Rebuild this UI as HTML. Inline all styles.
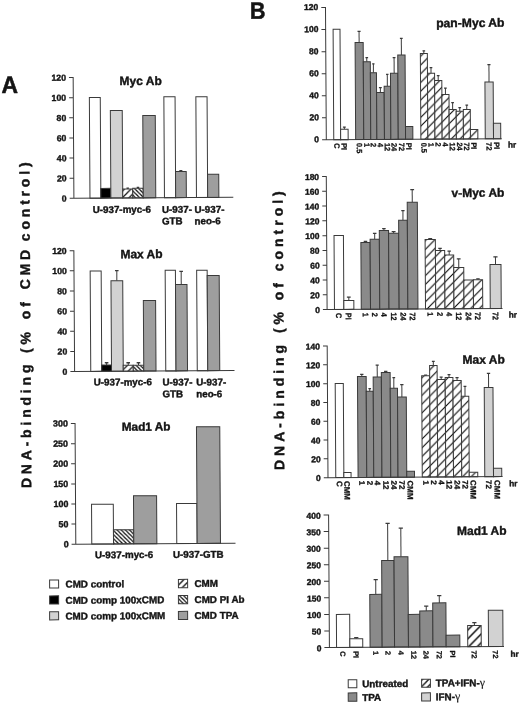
<!DOCTYPE html>
<html lang="en">
<head>
<meta charset="utf-8">
<title>DNA-binding of Myc, Max and Mad1 in U-937 cells</title>
<style>
html,body{margin:0;padding:0;background:#fff}
body{width:520px;height:705px;overflow:hidden}
svg{display:block}
text{font-family:"Liberation Sans",sans-serif;font-weight:bold;fill:#141414;stroke:#141414;stroke-width:.4;stroke-linejoin:round}
.v{stroke-width:.3}
.big{stroke-width:.55}
.b{stroke:#3a3a3a;stroke-width:1}
.a{stroke:#3a3a3a;stroke-width:1;fill:none}
.e{stroke:#3a3a3a;stroke-width:1;fill:none}
.c{stroke:#3a3a3a;stroke-width:1.4;fill:none}
.g{font-family:"Liberation Serif","DejaVu Serif",serif;font-weight:normal;stroke-width:.15}
</style>
</head>
<body>
<svg width="520" height="705" viewBox="0 0 520 705" role="img" aria-label="Bar charts of DNA-binding by Myc, Max and Mad1 antibodies">
<defs>
<pattern id="hB" patternUnits="userSpaceOnUse" width="8.7" height="8.7" x="6.8" y="3.1">
<rect width="8.7" height="8.7" fill="#fff"/>
<path d="M-8.7 17.4L8.7 0M0 17.4L17.4 0M-8.7 8.7L8.7 -8.7" stroke="#000" stroke-width="1.05" fill="none"/>
</pattern>
<pattern id="hB2" patternUnits="userSpaceOnUse" width="8.7" height="8.7" x="6.8" y="-0.3">
<rect width="8.7" height="8.7" fill="#fff"/>
<path d="M-8.7 17.4L8.7 0M0 17.4L17.4 0M-8.7 8.7L8.7 -8.7" stroke="#000" stroke-width="1.05" fill="none"/>
</pattern>
<pattern id="hB3" patternUnits="userSpaceOnUse" width="8.7" height="8.7" x="6.8" y="2.1">
<rect width="8.7" height="8.7" fill="#fff"/>
<path d="M-8.7 17.4L8.7 0M0 17.4L17.4 0M-8.7 8.7L8.7 -8.7" stroke="#000" stroke-width="1.05" fill="none"/>
</pattern>
<pattern id="hB4" patternUnits="userSpaceOnUse" width="8.7" height="8.7" x="6.8" y="3.1">
<rect width="8.7" height="8.7" fill="#fff"/>
<path d="M-8.7 17.4L8.7 0M0 17.4L17.4 0M-8.7 8.7L8.7 -8.7" stroke="#000" stroke-width="1.4" fill="none"/>
</pattern>
<pattern id="hA" patternUnits="userSpaceOnUse" width="6.6" height="6.6" x="2.5" y="1">
<rect width="6.6" height="6.6" fill="#fff"/>
<path d="M-6.6 13.2L6.6 0M0 13.2L13.2 0M-6.6 6.6L6.6 -6.6" stroke="#111" stroke-width="1.2" fill="none"/>
</pattern>
<pattern id="hL" patternUnits="userSpaceOnUse" width="6.4" height="6.4" x="0" y="0">
<rect width="6.4" height="6.4" fill="#fff"/>
<path d="M-6.4 12.8L6.4 0M0 12.8L12.8 0M-6.4 6.4L6.4 -6.4" stroke="#111" stroke-width="1.4" fill="none"/>
</pattern>
<pattern id="hP" patternUnits="userSpaceOnUse" width="4.1" height="4.1" x="1" y="0">
<rect width="4.1" height="4.1" fill="#fff"/>
<path d="M-4.1 -4.1L8.2 8.2M-4.1 0L4.1 8.2M0 -4.1L8.2 4.1" stroke="#111" stroke-width="1.3" fill="none"/>
</pattern>
</defs>
<rect width="520" height="705" fill="#fff"/>
<g transform="rotate(-0.35 260 352.5)">
<g id="panelA">
<text transform="translate(3.09 91.43) scale(0.96 1)" font-size="23.8" class="big">A</text>
<text transform="translate(30.48 321.95) rotate(-90)" font-size="14" text-anchor="middle" letter-spacing="3.8" word-spacing="0" class="yl">DNA-binding (% <tspan dx="1.5">of </tspan><tspan dx="1.3">CMD </tspan><tspan dx="-2.8">control)</tspan></text>
<rect x="90.92" y="96.5" width="10.9" height="100.67" fill="#ffffff" class="b"/>
<rect x="101.82" y="187.46" width="10" height="9.71" fill="#000000" class="b"/>
<rect x="111.82" y="109.63" width="11.9" height="87.54" fill="#d2d2d2" class="b"/>
<path d="M128.72 188.19V187.19" class="e"/><path d="M127.47 187.29H129.97" class="c"/>
<rect x="123.72" y="188.19" width="10" height="8.97" fill="url(#hA)" class="b"/>
<path d="M138.97 187.56V186.56" class="e"/><path d="M137.72 186.66H140.22" class="c"/>
<rect x="133.72" y="187.56" width="10.5" height="9.61" fill="url(#hP)" class="b"/>
<rect x="144.22" y="114.83" width="12.5" height="82.34" fill="#9e9e9e" class="b"/>
<rect x="165.42" y="96.2" width="11.2" height="100.96" fill="#ffffff" class="b"/>
<path d="M181.97 171.02V170.12" class="e"/><path d="M180.47 170.22H183.47" class="c"/>
<rect x="176.62" y="171.02" width="10.7" height="26.15" fill="#9e9e9e" class="b"/>
<rect x="197.42" y="96.4" width="11.2" height="100.77" fill="#ffffff" class="b"/>
<rect x="208.62" y="173.97" width="11.2" height="23.2" fill="#9e9e9e" class="b"/>
<path d="M70.65 76.36H74.85V197.17H234.25M70.65 96.5H74.85M70.65 116.63H74.85M70.65 136.76H74.85M70.65 156.9H74.85M70.65 177.03H74.85M70.65 197.17H74.85" class="a"/>
<text x="67.65" y="79.5" font-size="8.7" text-anchor="end">120</text>
<text x="67.65" y="99.63" font-size="8.7" text-anchor="end">100</text>
<text x="67.65" y="119.76" font-size="8.7" text-anchor="end">80</text>
<text x="67.65" y="139.9" font-size="8.7" text-anchor="end">60</text>
<text x="67.65" y="160.03" font-size="8.7" text-anchor="end">40</text>
<text x="67.65" y="180.16" font-size="8.7" text-anchor="end">20</text>
<text x="67.65" y="200.3" font-size="8.7" text-anchor="end">0</text>
<text x="121.14" y="84.25" font-size="12">Myc Ab</text>
<text x="93.56" y="211.98" font-size="9.8">U-937-myc-6</text>
<text x="162.85" y="212.3" font-size="9.8">U-937-</text>
<text x="162.78" y="223.8" font-size="9.8">GTB</text>
<text x="195.35" y="212.5" font-size="9.8">U-937-</text>
<text x="195.28" y="224" font-size="9.8">neo-6</text>
<rect x="90.66" y="270" width="11" height="100.37" fill="#ffffff" class="b"/>
<path d="M106.54 364.06V361.76" class="e"/><path d="M104.74 361.86H108.34" class="c"/>
<rect x="101.66" y="364.06" width="9.75" height="6.31" fill="#000000" class="b"/>
<path d="M117.29 279.88V269.63" class="e"/><path d="M115.49 269.73H119.09" class="c"/>
<rect x="111.41" y="279.88" width="11.75" height="90.49" fill="#d2d2d2" class="b"/>
<path d="M128.16 364.44V361.89" class="e"/><path d="M126.36 361.99H129.96" class="c"/>
<rect x="123.16" y="364.44" width="10" height="5.92" fill="url(#hA)" class="b"/>
<path d="M138.41 364.51V361.96" class="e"/><path d="M136.61 362.06H140.21" class="c"/>
<rect x="133.16" y="364.51" width="10.5" height="5.86" fill="url(#hP)" class="b"/>
<rect x="143.66" y="299.83" width="12.25" height="70.54" fill="#9e9e9e" class="b"/>
<rect x="165.66" y="269.71" width="10.25" height="100.66" fill="#ffffff" class="b"/>
<path d="M181.66 284.02V270.77" class="e"/><path d="M179.86 270.87H183.46" class="c"/>
<rect x="175.91" y="284.02" width="11.5" height="86.35" fill="#9e9e9e" class="b"/>
<rect x="197.16" y="269.9" width="10.5" height="100.47" fill="#ffffff" class="b"/>
<rect x="207.66" y="275.22" width="12" height="95.15" fill="#9e9e9e" class="b"/>
<path d="M70.29 249.56H74.49V370.37H234.39M70.29 269.7H74.49M70.29 289.83H74.49M70.29 309.97H74.49M70.29 330.1H74.49M70.29 350.23H74.49M70.29 370.37H74.49" class="a"/>
<text x="67.29" y="252.7" font-size="8.7" text-anchor="end">120</text>
<text x="67.29" y="272.83" font-size="8.7" text-anchor="end">100</text>
<text x="67.29" y="292.96" font-size="8.7" text-anchor="end">80</text>
<text x="67.29" y="313.1" font-size="8.7" text-anchor="end">60</text>
<text x="67.29" y="333.23" font-size="8.7" text-anchor="end">40</text>
<text x="67.29" y="353.37" font-size="8.7" text-anchor="end">20</text>
<text x="67.29" y="373.5" font-size="8.7" text-anchor="end">0</text>
<text x="120.98" y="257.45" font-size="12">Max Ab</text>
<text x="93.5" y="384.58" font-size="9.8">U-937-myc-6</text>
<text x="162.3" y="385" font-size="9.8">U-937-</text>
<text x="162.23" y="396.7" font-size="9.8">GTB</text>
<text x="196" y="385.21" font-size="9.8">U-937-</text>
<text x="195.93" y="396.91" font-size="9.8">neo-6</text>
<rect x="90.61" y="503.28" width="21.75" height="39.79" fill="#ffffff" class="b"/>
<rect x="112.36" y="528.86" width="20.25" height="14.21" fill="url(#hP)" class="b"/>
<rect x="132.61" y="495.05" width="23.1" height="48.03" fill="#9e9e9e" class="b"/>
<rect x="175.61" y="503.05" width="20.4" height="40.02" fill="#ffffff" class="b"/>
<rect x="196.01" y="426.43" width="23.3" height="116.64" fill="#9e9e9e" class="b"/>
<path d="M70.43 422.37H74.63V543.07H234.34M70.43 442.49H74.63M70.43 462.6H74.63M70.43 482.72H74.63M70.43 502.84H74.63M70.43 522.95H74.63M70.43 543.07H74.63" class="a"/>
<text x="67.43" y="425.37" font-size="8.9" text-anchor="end">300</text>
<text x="67.43" y="445.49" font-size="8.9" text-anchor="end">250</text>
<text x="67.43" y="465.61" font-size="8.9" text-anchor="end">200</text>
<text x="67.43" y="485.72" font-size="8.9" text-anchor="end">150</text>
<text x="67.43" y="505.84" font-size="8.9" text-anchor="end">100</text>
<text x="67.43" y="525.96" font-size="8.9" text-anchor="end">50</text>
<text x="67.43" y="546.08" font-size="8.9" text-anchor="end">0</text>
<text x="121.27" y="429.95" font-size="11.8">Mad1 Ab</text>
<text x="93.75" y="557.29" font-size="9.8">U-937-myc-6</text>
<text x="171.75" y="557.36" font-size="9.8">U-937-GTB</text>
<rect x="48.21" y="578.81" width="9" height="8" fill="#ffffff" class="b"/>
<text x="64.07" y="586.41" font-size="9.9">CMD control</text>
<rect x="48.12" y="594.61" width="9" height="8.2" fill="#000000" class="b"/>
<text x="63.97" y="602.61" font-size="9.9">CMD comp 100xCMD</text>
<rect x="48.02" y="610.51" width="9" height="8.1" fill="#d2d2d2" class="b"/>
<text x="63.87" y="618.41" font-size="9.9">CMD comp 100xCMM</text>
<rect x="177.02" y="578.9" width="9.2" height="8.4" fill="url(#hL)" class="b"/>
<text x="193.07" y="586.5" font-size="9.9">CMM</text>
<rect x="176.92" y="595.1" width="9.2" height="8.1" fill="url(#hP)" class="b"/>
<text x="192.97" y="602.7" font-size="9.9">CMD PI Ab</text>
<rect x="176.82" y="610.9" width="9.2" height="8.2" fill="#9e9e9e" class="b"/>
<text x="192.87" y="618.49" font-size="9.9">CMD TPA</text>
</g>
<g id="panelB">
<text transform="translate(252.04 18.65) scale(0.91 1)" font-size="23.6" class="big">B</text>
<text transform="translate(283.65 328.81) rotate(-90)" font-size="14" text-anchor="middle" letter-spacing="3.96" word-spacing="0" class="yl">DNA-binding (% of control)</text>
<rect x="335.07" y="29.73" width="6.9" height="110.48" fill="#ffffff" class="b"/>
<text transform="translate(335.47 143.69) rotate(90) scale(0.96 1)" font-size="7.7" class="v">C</text>
<path d="M345.72 129.77V127.52" class="e"/><path d="M344.3 127.62H347.15" class="c"/>
<rect x="341.97" y="129.77" width="7.5" height="10.44" fill="#ffffff" class="b"/>
<text transform="translate(342.67 143.69) rotate(90) scale(0.96 1)" font-size="7.7" class="v">PI</text>
<path d="M361.02 43.11V31.86" class="e"/><path d="M359.48 31.96H362.56" class="c"/>
<rect x="356.97" y="43.11" width="8.1" height="97.1" fill="#8a8a8a" class="b"/>
<text transform="translate(357.97 143.69) rotate(90) scale(0.96 1)" font-size="7.7" class="v">0.5</text>
<path d="M368.57 62.41V58.16" class="e"/><path d="M367.24 58.26H369.9" class="c"/>
<rect x="365.07" y="62.41" width="7" height="77.8" fill="#8a8a8a" class="b"/>
<text transform="translate(365.52 143.69) rotate(90) scale(0.96 1)" font-size="7.7" class="v">1</text>
<path d="M375.12 73.45V64.45" class="e"/><path d="M373.96 64.55H376.28" class="c"/>
<rect x="372.07" y="73.45" width="6.1" height="66.76" fill="#8a8a8a" class="b"/>
<text transform="translate(372.07 143.69) rotate(90) scale(0.96 1)" font-size="7.7" class="v">2</text>
<path d="M381.97 93.24V88.24" class="e"/><path d="M380.53 88.34H383.42" class="c"/>
<rect x="378.17" y="93.24" width="7.6" height="46.97" fill="#8a8a8a" class="b"/>
<text transform="translate(378.92 143.69) rotate(90) scale(0.96 1)" font-size="7.7" class="v">4</text>
<path d="M388.97 87.03V75.03" class="e"/><path d="M387.76 75.13H390.19" class="c"/>
<rect x="385.77" y="87.03" width="6.4" height="53.18" fill="#8a8a8a" class="b"/>
<text transform="translate(385.92 143.69) rotate(90) scale(0.96 1)" font-size="7.7" class="v">12</text>
<path d="M395.87 74.08V58.33" class="e"/><path d="M394.47 58.43H397.28" class="c"/>
<rect x="392.17" y="74.08" width="7.4" height="66.13" fill="#8a8a8a" class="b"/>
<text transform="translate(392.82 143.69) rotate(90) scale(0.96 1)" font-size="7.7" class="v">24</text>
<path d="M403.22 55.87V39.12" class="e"/><path d="M401.83 39.22H404.61" class="c"/>
<rect x="399.57" y="55.87" width="7.3" height="84.34" fill="#8a8a8a" class="b"/>
<text transform="translate(400.17 143.69) rotate(90) scale(0.96 1)" font-size="7.7" class="v">72</text>
<rect x="406.87" y="127.41" width="7.3" height="12.79" fill="#8a8a8a" class="b"/>
<text transform="translate(407.47 143.69) rotate(90) scale(0.96 1)" font-size="7.7" class="v">PI</text>
<path d="M425.67 54.51V51.76" class="e"/><path d="M424.34 51.86H427" class="c"/>
<rect x="422.17" y="54.51" width="7" height="85.7" fill="url(#hB)" class="b"/>
<text transform="translate(422.62 143.69) rotate(90) scale(0.96 1)" font-size="7.7" class="v">0.5</text>
<path d="M432.72 74.3V68.55" class="e"/><path d="M431.37 68.65H434.07" class="c"/>
<rect x="429.17" y="74.3" width="7.1" height="65.91" fill="url(#hB)" class="b"/>
<text transform="translate(429.67 143.69) rotate(90) scale(0.96 1)" font-size="7.7" class="v">1</text>
<path d="M439.87 81.59V76.59" class="e"/><path d="M438.5 76.69H441.24" class="c"/>
<rect x="436.27" y="81.59" width="7.2" height="58.61" fill="url(#hB)" class="b"/>
<text transform="translate(436.82 143.69) rotate(90) scale(0.96 1)" font-size="7.7" class="v">2</text>
<path d="M447.02 95.64V89.14" class="e"/><path d="M445.67 89.24H448.37" class="c"/>
<rect x="443.47" y="95.64" width="7.1" height="44.57" fill="url(#hB)" class="b"/>
<text transform="translate(443.97 143.69) rotate(90) scale(0.96 1)" font-size="7.7" class="v">4</text>
<path d="M454.12 110.68V103.68" class="e"/><path d="M452.77 103.78H455.47" class="c"/>
<rect x="450.57" y="110.68" width="7.1" height="29.53" fill="url(#hB)" class="b"/>
<text transform="translate(451.07 143.69) rotate(90) scale(0.96 1)" font-size="7.7" class="v">12</text>
<path d="M461.22 112.47V108.72" class="e"/><path d="M459.87 108.82H462.57" class="c"/>
<rect x="457.67" y="112.47" width="7.1" height="27.73" fill="url(#hB)" class="b"/>
<text transform="translate(458.17 143.69) rotate(90) scale(0.96 1)" font-size="7.7" class="v">24</text>
<path d="M468.27 110.77V106.27" class="e"/><path d="M466.94 106.37H469.6" class="c"/>
<rect x="464.77" y="110.77" width="7" height="29.44" fill="url(#hB)" class="b"/>
<text transform="translate(465.22 143.69) rotate(90) scale(0.96 1)" font-size="7.7" class="v">72</text>
<rect x="471.77" y="130.81" width="7.4" height="9.4" fill="url(#hB)" class="b"/>
<text transform="translate(472.42 143.69) rotate(90) scale(0.96 1)" font-size="7.7" class="v">PI</text>
<path d="M490.69 83.4V65.91" class="e"/><path d="M489.13 66.01H492.26" class="c"/>
<rect x="486.57" y="83.4" width="8.25" height="56.8" fill="#d2d2d2" class="b"/>
<text transform="translate(487.65 143.69) rotate(90) scale(0.96 1)" font-size="7.7" class="v">72</text>
<rect x="494.82" y="124.7" width="7.25" height="15.51" fill="#d2d2d2" class="b"/>
<text transform="translate(495.4 143.69) rotate(90) scale(0.96 1)" font-size="7.7" class="v">PI</text>
<path d="M323.4 7.91H327.6V140.21H503.05M323.4 29.96H327.6M323.4 52.01H327.6M323.4 74.06H327.6M323.4 96.11H327.6M323.4 118.16H327.6M323.4 140.21H327.6" class="a"/>
<text x="320.4" y="10.37" font-size="8.5" text-anchor="end">120</text>
<text x="320.4" y="32.42" font-size="8.5" text-anchor="end">100</text>
<text x="320.4" y="54.47" font-size="8.5" text-anchor="end">80</text>
<text x="320.4" y="76.52" font-size="8.5" text-anchor="end">60</text>
<text x="320.4" y="98.57" font-size="8.5" text-anchor="end">40</text>
<text x="320.4" y="120.62" font-size="8.5" text-anchor="end">20</text>
<text x="320.4" y="142.67" font-size="8.5" text-anchor="end">0</text>
<text x="438.18" y="28.28" font-size="12.15">pan-Myc Ab</text>
<text x="509.25" y="149.02" font-size="8.2">hr</text>
<rect x="334.74" y="235.98" width="9.4" height="73.93" fill="#ffffff" class="b"/>
<text transform="translate(336.28 313.39) rotate(90) scale(0.9 1)" font-size="8" class="v">C</text>
<path d="M349.14 301.04V297.54" class="e"/><path d="M347.24 297.64H351.04" class="c"/>
<rect x="344.14" y="301.04" width="10" height="8.87" fill="#ffffff" class="b"/>
<text transform="translate(345.98 313.39) rotate(90) scale(0.9 1)" font-size="8" class="v">PI</text>
<path d="M366.16 243.15V241.9" class="e"/><path d="M364.4 242H367.92" class="c"/>
<rect x="361.54" y="243.15" width="9.25" height="66.76" fill="#8a8a8a" class="b"/>
<text transform="translate(363 313.39) rotate(90) scale(0.9 1)" font-size="8" class="v">1</text>
<path d="M375.41 239.95V233.95" class="e"/><path d="M373.65 234.05H377.17" class="c"/>
<rect x="370.79" y="239.95" width="9.25" height="69.96" fill="#8a8a8a" class="b"/>
<text transform="translate(372.25 313.39) rotate(90) scale(0.9 1)" font-size="8" class="v">2</text>
<path d="M384.66 231.26V229.26" class="e"/><path d="M382.9 229.36H386.42" class="c"/>
<rect x="380.04" y="231.26" width="9.25" height="78.65" fill="#8a8a8a" class="b"/>
<text transform="translate(381.5 313.39) rotate(90) scale(0.9 1)" font-size="8" class="v">4</text>
<path d="M394.36 234.07V232.32" class="e"/><path d="M392.43 232.42H396.29" class="c"/>
<rect x="389.29" y="234.07" width="10.15" height="75.84" fill="#8a8a8a" class="b"/>
<text transform="translate(391.2 313.39) rotate(90) scale(0.9 1)" font-size="8" class="v">12</text>
<path d="M403.78 221.13V211.38" class="e"/><path d="M402.13 211.48H405.44" class="c"/>
<rect x="399.43" y="221.13" width="8.7" height="88.78" fill="#8a8a8a" class="b"/>
<text transform="translate(400.63 313.39) rotate(90) scale(0.9 1)" font-size="8" class="v">24</text>
<path d="M413.18 203.19V190.44" class="e"/><path d="M411.27 190.54H415.1" class="c"/>
<rect x="408.13" y="203.19" width="10.1" height="106.73" fill="#8a8a8a" class="b"/>
<text transform="translate(410.03 313.39) rotate(90) scale(0.9 1)" font-size="8" class="v">72</text>
<path d="M430.91 240.54V239.54" class="e"/><path d="M428.96 239.64H432.86" class="c"/>
<rect x="425.78" y="240.54" width="10.25" height="69.37" fill="url(#hB2)" class="b"/>
<text transform="translate(427.75 313.39) rotate(90) scale(0.9 1)" font-size="8" class="v">1</text>
<path d="M440.66 251.6V249.35" class="e"/><path d="M438.9 249.45H442.42" class="c"/>
<rect x="436.03" y="251.6" width="9.25" height="58.31" fill="url(#hB2)" class="b"/>
<text transform="translate(437.5 313.39) rotate(90) scale(0.9 1)" font-size="8" class="v">2</text>
<path d="M449.78 256.16V252.16" class="e"/><path d="M448.07 252.26H451.49" class="c"/>
<rect x="445.28" y="256.16" width="9" height="53.75" fill="url(#hB2)" class="b"/>
<text transform="translate(446.63 313.39) rotate(90) scale(0.9 1)" font-size="8" class="v">4</text>
<path d="M459.28 268.72V259.97" class="e"/><path d="M457.38 260.07H461.18" class="c"/>
<rect x="454.28" y="268.72" width="10" height="41.2" fill="url(#hB2)" class="b"/>
<text transform="translate(456.13 313.39) rotate(90) scale(0.9 1)" font-size="8" class="v">12</text>
<rect x="464.28" y="281.27" width="9.5" height="28.64" fill="url(#hB2)" class="b"/>
<text transform="translate(465.88 313.39) rotate(90) scale(0.9 1)" font-size="8" class="v">24</text>
<path d="M478.41 281.08V280.08" class="e"/><path d="M476.65 280.18H480.17" class="c"/>
<rect x="473.78" y="281.08" width="9.25" height="28.83" fill="url(#hB2)" class="b"/>
<text transform="translate(475.25 313.39) rotate(90) scale(0.9 1)" font-size="8" class="v">72</text>
<path d="M496.03 265.94V258.19" class="e"/><path d="M493.94 258.29H498.12" class="c"/>
<rect x="490.53" y="265.94" width="11" height="43.97" fill="#d2d2d2" class="b"/>
<text transform="translate(492.88 313.39) rotate(90) scale(0.9 1)" font-size="8" class="v">72</text>
<path d="M323.16 176.91H327.36V309.91H502.76M323.16 191.69H327.36M323.16 206.46H327.36M323.16 221.24H327.36M323.16 236.02H327.36M323.16 250.8H327.36M323.16 265.58H327.36M323.16 280.35H327.36M323.16 295.13H327.36M323.16 309.91H327.36" class="a"/>
<text x="320.16" y="180.27" font-size="8.5" text-anchor="end">180</text>
<text x="320.16" y="195.05" font-size="8.5" text-anchor="end">160</text>
<text x="320.16" y="209.82" font-size="8.5" text-anchor="end">140</text>
<text x="320.16" y="224.6" font-size="8.5" text-anchor="end">120</text>
<text x="320.16" y="239.38" font-size="8.5" text-anchor="end">100</text>
<text x="320.16" y="254.16" font-size="8.5" text-anchor="end">80</text>
<text x="320.16" y="268.94" font-size="8.5" text-anchor="end">60</text>
<text x="320.16" y="283.71" font-size="8.5" text-anchor="end">40</text>
<text x="320.16" y="298.49" font-size="8.5" text-anchor="end">20</text>
<text x="320.16" y="313.27" font-size="8.5" text-anchor="end">0</text>
<text x="452.45" y="198.17" font-size="12">v-Myc Ab</text>
<text x="508.91" y="319.02" font-size="8.2">hr</text>
<rect x="335.01" y="383.99" width="8.1" height="94.08" fill="#ffffff" class="b"/>
<text transform="translate(335.9 481.4) rotate(90)" font-size="8" class="v">C</text>
<rect x="343.11" y="473.03" width="7.2" height="5.03" fill="#ffffff" class="b"/>
<text transform="translate(343.55 481.4) rotate(90)" font-size="8" class="v">CMM</text>
<path d="M361.66 377.12V374.87" class="e"/><path d="M360.01 374.97H363.31" class="c"/>
<rect x="357.31" y="377.12" width="8.7" height="100.94" fill="#8a8a8a" class="b"/>
<text transform="translate(358.5 481.4) rotate(90)" font-size="8" class="v">1</text>
<path d="M369.51 391.92V389.17" class="e"/><path d="M368.18 389.27H370.84" class="c"/>
<rect x="366.01" y="391.92" width="7" height="86.14" fill="#8a8a8a" class="b"/>
<text transform="translate(366.35 481.4) rotate(90)" font-size="8" class="v">2</text>
<path d="M377.11 377.72V365.72" class="e"/><path d="M375.55 365.82H378.67" class="c"/>
<rect x="373.01" y="377.72" width="8.2" height="100.35" fill="#8a8a8a" class="b"/>
<text transform="translate(373.95 481.4) rotate(90)" font-size="8" class="v">4</text>
<path d="M385.61 373.27V372.02" class="e"/><path d="M383.94 372.12H387.28" class="c"/>
<rect x="381.21" y="373.27" width="8.8" height="104.79" fill="#8a8a8a" class="b"/>
<text transform="translate(382.45 481.4) rotate(90)" font-size="8" class="v">12</text>
<path d="M393.63 389.07V378.32" class="e"/><path d="M392.26 378.42H395.01" class="c"/>
<rect x="390.01" y="389.07" width="7.25" height="88.99" fill="#8a8a8a" class="b"/>
<text transform="translate(390.48 481.4) rotate(90)" font-size="8" class="v">24</text>
<path d="M401.63 397.87V385.37" class="e"/><path d="M399.97 385.47H403.3" class="c"/>
<rect x="397.26" y="397.87" width="8.75" height="80.2" fill="#8a8a8a" class="b"/>
<text transform="translate(398.48 481.4) rotate(90)" font-size="8" class="v">72</text>
<rect x="406.01" y="472.17" width="7.75" height="5.9" fill="#8a8a8a" class="b"/>
<text transform="translate(406.73 481.4) rotate(90)" font-size="8" class="v">CMM</text>
<path d="M425.51 376.76V376.01" class="e"/><path d="M423.99 376.11H427.03" class="c"/>
<rect x="421.51" y="376.76" width="8" height="101.3" fill="url(#hB3)" class="b"/>
<text transform="translate(422.35 481.4) rotate(90)" font-size="8" class="v">1</text>
<path d="M433.26 366.56V362.31" class="e"/><path d="M431.83 362.41H434.68" class="c"/>
<rect x="429.51" y="366.56" width="7.5" height="111.5" fill="url(#hB3)" class="b"/>
<text transform="translate(430.1 481.4) rotate(90)" font-size="8" class="v">2</text>
<path d="M441.01 380.61V378.11" class="e"/><path d="M439.49 378.21H442.53" class="c"/>
<rect x="437.01" y="380.61" width="8" height="97.45" fill="url(#hB3)" class="b"/>
<text transform="translate(437.85 481.4) rotate(90)" font-size="8" class="v">4</text>
<path d="M448.88 378.66V375.66" class="e"/><path d="M447.41 375.76H450.35" class="c"/>
<rect x="445.01" y="378.66" width="7.75" height="99.41" fill="url(#hB3)" class="b"/>
<text transform="translate(445.73 481.4) rotate(90)" font-size="8" class="v">12</text>
<path d="M456.88 381.71V378.71" class="e"/><path d="M455.31 378.81H458.45" class="c"/>
<rect x="452.76" y="381.71" width="8.25" height="96.36" fill="url(#hB3)" class="b"/>
<text transform="translate(453.73 481.4) rotate(90)" font-size="8" class="v">24</text>
<path d="M464.76 397.5V387.5" class="e"/><path d="M463.33 387.6H466.18" class="c"/>
<rect x="461.01" y="397.5" width="7.5" height="80.56" fill="url(#hB3)" class="b"/>
<text transform="translate(461.6 481.4) rotate(90)" font-size="8" class="v">72</text>
<rect x="468.51" y="473.55" width="8.5" height="4.51" fill="url(#hB3)" class="b"/>
<text transform="translate(469.6 481.4) rotate(90)" font-size="8" class="v">CMM</text>
<path d="M488.38 388.9V374.65" class="e"/><path d="M486.72 374.75H490.04" class="c"/>
<rect x="484.01" y="388.9" width="8.75" height="89.17" fill="#d2d2d2" class="b"/>
<text transform="translate(485.23 481.4) rotate(90)" font-size="8" class="v">72</text>
<rect x="492.76" y="469.7" width="8.25" height="8.37" fill="#d2d2d2" class="b"/>
<text transform="translate(493.73 481.4) rotate(90)" font-size="8" class="v">CMM</text>
<path d="M323.03 346.41H327.23V478.06H501.74M323.03 365.22H327.23M323.03 384.03H327.23M323.03 402.83H327.23M323.03 421.64H327.23M323.03 440.45H327.23M323.03 459.26H327.23M323.03 478.06H327.23" class="a"/>
<text x="320.03" y="349.77" font-size="8.5" text-anchor="end">140</text>
<text x="320.03" y="368.58" font-size="8.5" text-anchor="end">120</text>
<text x="320.03" y="387.39" font-size="8.5" text-anchor="end">100</text>
<text x="320.03" y="406.19" font-size="8.5" text-anchor="end">80</text>
<text x="320.03" y="425" font-size="8.5" text-anchor="end">60</text>
<text x="320.03" y="443.81" font-size="8.5" text-anchor="end">40</text>
<text x="320.03" y="462.62" font-size="8.5" text-anchor="end">20</text>
<text x="320.03" y="481.42" font-size="8.5" text-anchor="end">0</text>
<text x="462.53" y="365.04" font-size="12">Max Ab</text>
<text x="508.48" y="487.82" font-size="8.2">hr</text>
<rect x="334.77" y="614.9" width="13.3" height="33.02" fill="#ffffff" class="b"/>
<text transform="translate(338.47 651.7) rotate(90)" font-size="7.4" class="v">C</text>
<path d="M354.52 639.33V638.08" class="e"/><path d="M352.42 638.18H356.62" class="c"/>
<rect x="348.07" y="639.33" width="12.9" height="8.59" fill="#ffffff" class="b"/>
<text transform="translate(351.57 651.7) rotate(90)" font-size="7.4" class="v">PI</text>
<path d="M374.32 595.1V580.2" class="e"/><path d="M372.22 580.3H376.42" class="c"/>
<rect x="368.27" y="595.1" width="12.1" height="52.82" fill="#8a8a8a" class="b"/>
<text transform="translate(371.38 651.7) rotate(90)" font-size="7.4" class="v">1</text>
<path d="M386.57 561.28V524.03" class="e"/><path d="M384.47 524.13H388.67" class="c"/>
<rect x="380.37" y="561.28" width="12.4" height="86.64" fill="#8a8a8a" class="b"/>
<text transform="translate(383.63 651.7) rotate(90)" font-size="7.4" class="v">2</text>
<path d="M399.72 557.66V528.86" class="e"/><path d="M397.62 528.96H401.82" class="c"/>
<rect x="392.77" y="557.66" width="13.9" height="90.26" fill="#8a8a8a" class="b"/>
<text transform="translate(396.78 651.7) rotate(90)" font-size="7.4" class="v">4</text>
<rect x="406.67" y="615.34" width="11.5" height="32.58" fill="#8a8a8a" class="b"/>
<text transform="translate(409.48 651.7) rotate(90)" font-size="7.4" class="v">12</text>
<path d="M424.67 611.91V607.01" class="e"/><path d="M422.57 607.11H426.77" class="c"/>
<rect x="418.17" y="611.91" width="13" height="36.01" fill="#8a8a8a" class="b"/>
<text transform="translate(421.73 651.7) rotate(90)" font-size="7.4" class="v">24</text>
<path d="M437.77 603.99V596.59" class="e"/><path d="M435.67 596.69H439.87" class="c"/>
<rect x="431.17" y="603.99" width="13.2" height="43.93" fill="#8a8a8a" class="b"/>
<text transform="translate(434.83 651.7) rotate(90)" font-size="7.4" class="v">72</text>
<rect x="444.37" y="636.27" width="13.7" height="11.65" fill="#8a8a8a" class="b"/>
<text transform="translate(448.28 651.7) rotate(90)" font-size="7.4" class="v">PI</text>
<path d="M472.72 626.8V623.8" class="e"/><path d="M470.62 623.9H474.82" class="c"/>
<rect x="465.97" y="626.8" width="13.5" height="21.11" fill="url(#hB4)" class="b"/>
<text transform="translate(469.78 651.7) rotate(90)" font-size="7.4" class="v">72</text>
<rect x="486.72" y="611.68" width="14.5" height="36.23" fill="#d2d2d2" class="b"/>
<text transform="translate(491.03 651.7) rotate(90)" font-size="7.4" class="v">72</text>
<path d="M322.6 515.42H327.6V647.92H502.2M322.6 531.98H327.6M322.6 548.54H327.6M322.6 565.1H327.6M322.6 581.67H327.6M322.6 598.23H327.6M322.6 614.79H327.6M322.6 631.36H327.6M322.6 647.92H327.6" class="a"/>
<text x="319.6" y="518.98" font-size="8.5" text-anchor="end">400</text>
<text x="319.6" y="535.54" font-size="8.5" text-anchor="end">350</text>
<text x="319.6" y="552.1" font-size="8.5" text-anchor="end">300</text>
<text x="319.6" y="568.66" font-size="8.5" text-anchor="end">250</text>
<text x="319.6" y="585.23" font-size="8.5" text-anchor="end">200</text>
<text x="319.6" y="601.79" font-size="8.5" text-anchor="end">150</text>
<text x="319.6" y="618.35" font-size="8.5" text-anchor="end">100</text>
<text x="319.6" y="634.92" font-size="8.5" text-anchor="end">50</text>
<text x="319.6" y="651.48" font-size="8.5" text-anchor="end">0</text>
<text x="455.88" y="536.2" font-size="12">Mad1 Ab</text>
<text x="508.64" y="658.32" font-size="8.2">hr</text>
<rect x="346.2" y="680.23" width="8.6" height="8" fill="#ffffff" class="b"/>
<text x="360.15" y="687.82" font-size="9.9">Untreated</text>
<rect x="346.12" y="693.43" width="8.6" height="8.4" fill="#8a8a8a" class="b"/>
<text x="360.07" y="701.52" font-size="9.9">TPA</text>
<rect x="419.6" y="680.18" width="8.8" height="8" fill="url(#hL)" class="b"/>
<text x="433.76" y="687.47" font-size="9.9">TPA+IFN-<tspan class="g" font-size="12">γ</tspan></text>
<rect x="419.52" y="693.88" width="8.8" height="8.2" fill="#d2d2d2" class="b"/>
<text x="433.67" y="701.27" font-size="9.9">IFN-<tspan class="g" font-size="12">γ</tspan></text>
</g>
</g>
</svg>
</body>
</html>
